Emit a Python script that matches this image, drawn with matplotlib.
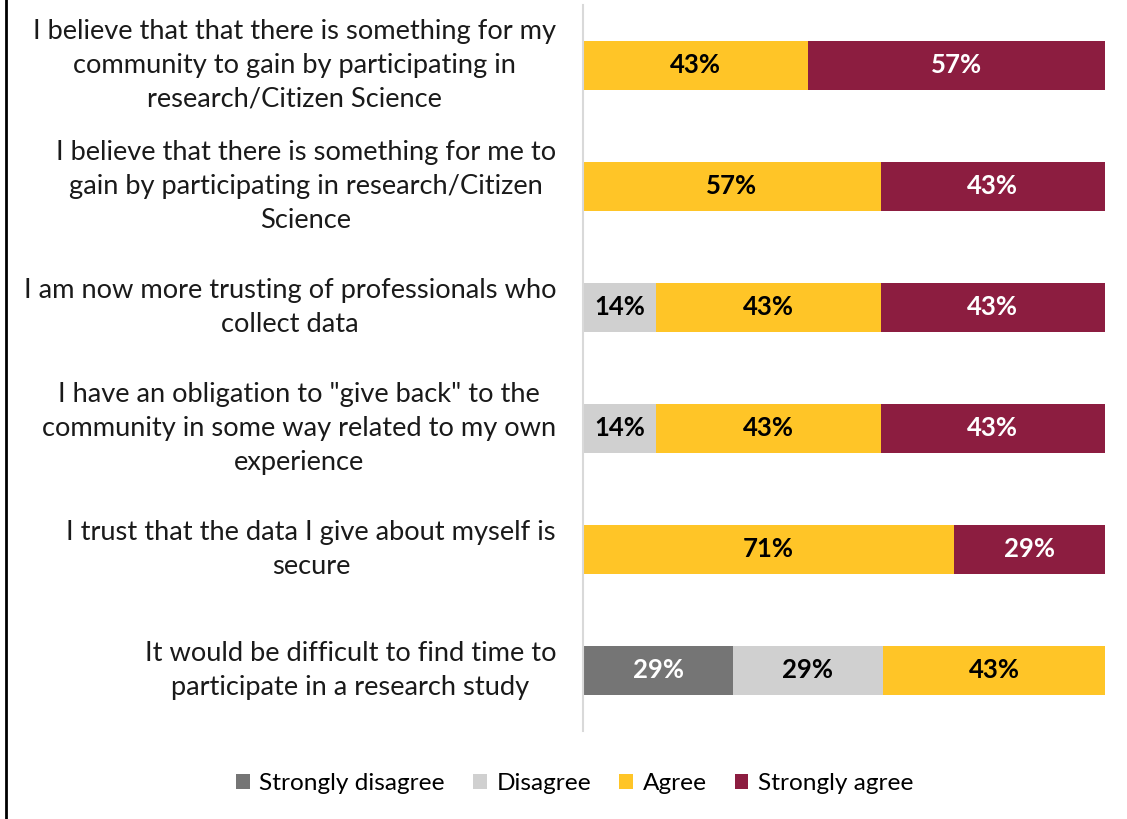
import numpy as np
import matplotlib.pyplot as plt
from matplotlib.lines import Line2D

plt.rcParams['font.family'] = ['Lato', 'DejaVu Sans']

statements = [
    "I believe that that there is something for my\ncommunity to gain by participating in\nresearch/Citizen Science",
    "I believe that there is something for me to\ngain by participating in research/Citizen\nScience",
    "I am now more trusting of professionals who\ncollect data",
    "I have an obligation to \"give back\" to the\ncommunity in some way related to my own\nexperience",
    "I trust that the data I give about myself is\nsecure",
    "It would be difficult to find time to\nparticipate in a research study",
]
responses = ["Strongly disagree", "Disagree", "Agree", "Strongly agree"]
strongly_disagree = [0, 0, 0, 0, 0, 29]
disagree = [0, 0, 14, 14, 0, 29]
agree = [43, 57, 43, 43, 71, 43]
strongly_agree = [57, 43, 43, 43, 29, 0]

colors = ["#757575", "#D0D0D0", "#FFC527", "#8C1D40"]
text_colors = ["white", "black", "black", "white"]

series = np.array([strongly_disagree, disagree, agree, strongly_agree], dtype=float)
totals = series.sum(axis=0)
shares = series / totals

fig = plt.figure(figsize=(11.27, 8.19), dpi=100)
ax = fig.add_axes([0.5175, 0.1075, 0.463, 0.8865])

y = np.arange(len(statements))[::-1]
left = np.zeros(len(statements))
for k, name in enumerate(responses):
    ax.barh(y, shares[k], left=left, height=0.4, color=colors[k], label=name)
    for i in range(len(statements)):
        if series[k, i] > 0:
            ax.text(left[i] + shares[k, i] / 2, y[i], f"{series[k, i]:.0f}%",
                    ha='center', va='center', fontsize=18.5, fontweight='bold',
                    color=text_colors[k])
    left += shares[k]

ax.set_xlim(0, 1)
ax.set_ylim(-0.5, 5.5)
ax.set_xticks([])
ax.set_yticks([])

# statement labels, right aligned next to the axis line, centred lines
for i, txt in enumerate(statements):
    ax.text(-0.052, y[i], txt, transform=ax.get_yaxis_transform(),
            ha='right', va='center', multialignment='center',
            fontsize=19.6, color='#1a1a1a', linespacing=1.45)

for s in ['top', 'right', 'bottom']:
    ax.spines[s].set_visible(False)
ax.spines['left'].set_color('#D9D9D9')
ax.spines['left'].set_linewidth(1.5)

fig.legend(loc='center', bbox_to_anchor=(0.51, 0.043), ncol=4, frameon=False,
           fontsize=17.6, handlelength=0.55, handleheight=0.55, handletextpad=0.4,
           columnspacing=1.15)

fig.add_artist(Line2D([0.005, 0.005], [0, 1], color='black', linewidth=2,
                      transform=fig.transFigure))

fig.savefig("out.png", dpi=100)
